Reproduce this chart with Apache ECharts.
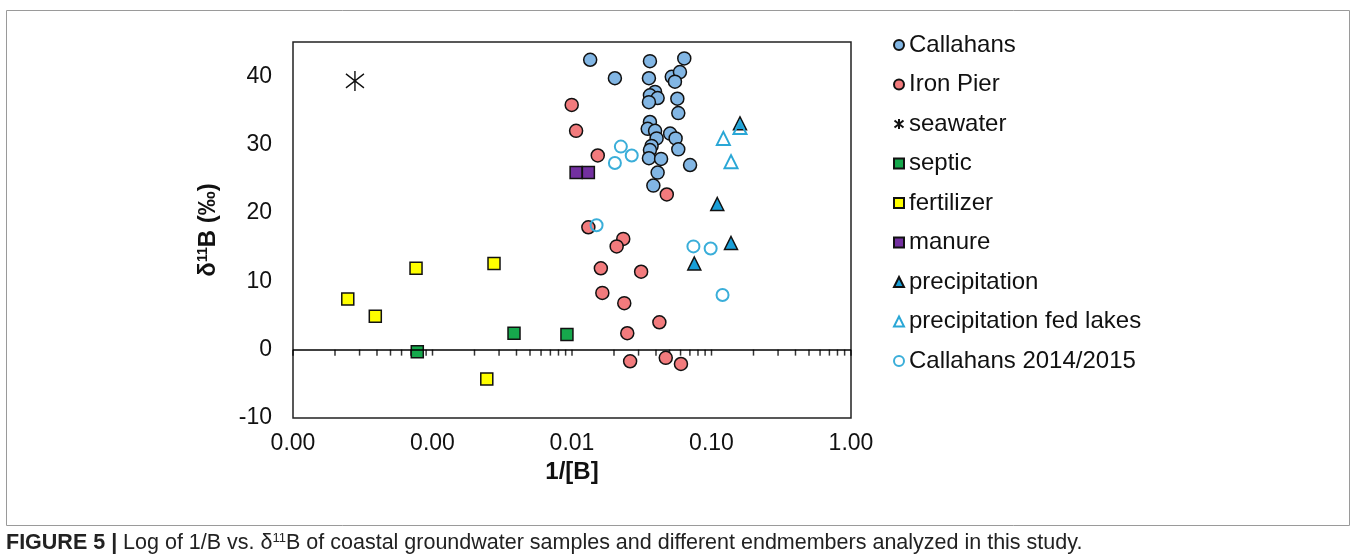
<!DOCTYPE html>
<html>
<head>
<meta charset="utf-8">
<script src="https://cdn.jsdelivr.net/npm/echarts@6.0.0/dist/echarts.min.js"></script>
<style>
  html, body { margin: 0; padding: 0; background: #fff; }
  #chart { width: 1357px; height: 560px; }
</style>
</head>
<body>
<div id="chart"></div>
<script>
// [1/[B], d11B]
const callahans = [
  [0.0135, 42.4], [0.0203, 39.7], [0.0362, 42.2], [0.0638, 42.6], [0.0356, 39.7],
  [0.0519, 39.9], [0.0594, 40.6], [0.0547, 39.2], [0.0394, 37.7], [0.0362, 37.2],
  [0.0411, 36.8], [0.0356, 36.2], [0.0569, 36.7], [0.0578, 34.6], [0.0362, 33.3],
  [0.0349, 32.3], [0.0394, 32.0], [0.0404, 30.9], [0.0505, 31.6], [0.0553, 30.9],
  [0.0372, 29.8], [0.0362, 29.2], [0.0578, 29.3], [0.0356, 28.0], [0.0435, 27.9],
  [0.0702, 27.0], [0.0411, 25.9], [0.0383, 24.0]
]
const ironPier = [
  [0.00995, 35.8], [0.0107, 32.0], [0.0153, 28.4], [0.0478, 22.7], [0.0131, 17.9],
  [0.0233, 16.2], [0.0209, 15.1], [0.0161, 11.9], [0.0313, 11.4], [0.0165, 8.3],
  [0.0237, 6.8], [0.0423, 4.0], [0.0249, 2.4], [0.0261, -1.7], [0.0470, -1.2],
  [0.0604, -2.1]
]
const seawater = [[0.000278, 39.3]]
const septic = [[0.000778, -0.3], [0.00384, 2.4], [0.0092, 2.2]]
const fertilizer = [[0.000247, 7.4], [0.000389, 4.9], [0.000762, 11.9], [0.00276, 12.6], [0.00245, -4.3]]
const manure = [[0.0107, 25.9], [0.0131, 25.9]]
const precipitation = [[0.160, 33.1], [0.110, 21.3], [0.138, 15.6], [0.0753, 12.6]]
const precipLakes = [[0.160, 32.5], [0.1216, 30.9], [0.138, 27.5]]
const callahans2014 = [[0.0224, 29.7], [0.0268, 28.4], [0.0203, 27.3], [0.0150, 18.2], [0.0742, 15.1], [0.0986, 14.8], [0.120, 8.0]]

const seriesNames = ['Callahans', 'Iron Pier', 'seawater', 'septic', 'fertilizer', 'manure',
  'precipitation', 'precipitation fed lakes', 'Callahans 2014/2015']

// log minor ticks hanging off the zero line
const tickDecades = [0.0001, 0.001, 0.01, 0.1]
const tickSteps = [1, 2, 3, 4, 5, 6, 7, 8, 9]
const zeroTicks = tickDecades.flatMap((d) => tickSteps.map((s) => [d * s, 0])).concat([[1, 0]])

const font = "'Liberation Sans', Arial, sans-serif"
const starPath = 'path://M9,0L9,20M0,3L18,17M0,17L18,3'

const filled = (name, data, symbol, size, color) => ({
  name,
  type: 'scatter',
  data,
  symbol,
  symbolSize: size,
  itemStyle: { color, borderColor: '#111', borderWidth: 1.5, opacity: 1 }
})

const hollow = (name, data, symbol, size, color) => ({
  name,
  type: 'scatter',
  data,
  symbol,
  symbolSize: size,
  itemStyle: { color: 'rgba(0,0,0,0)', borderColor: color, borderWidth: 2, opacity: 1 }
})

const chart = echarts.init(document.getElementById('chart'))

chart.setOption({
  backgroundColor: '#fff',
  animation: false,
  textStyle: { fontFamily: font },
  grid: {
    left: 293,
    right: 506,
    top: 42,
    bottom: 142,
    show: true,
    borderColor: '#222',
    borderWidth: 1.5,
    backgroundColor: 'transparent'
  },
  legend: {
    orient: 'vertical',
    left: 893,
    top: 32,
    padding: 0,
    itemWidth: 10,
    itemHeight: 10,
    itemGap: 13.5,
    data: seriesNames,
    textStyle: { fontSize: 24, lineHeight: 26, color: '#111', fontFamily: font }
  },
  xAxis: {
    type: 'log',
    logBase: 10,
    min: 0.0001,
    max: 1,
    name: '1/[B]',
    nameLocation: 'middle',
    nameGap: 40,
    nameTextStyle: { fontSize: 24, fontWeight: 'bold', color: '#111', fontFamily: font },
    axisLine: { show: false },
    axisTick: { show: false },
    splitLine: { show: false },
    axisLabel: {
      fontSize: 23,
      color: '#111',
      margin: 14,
      formatter: (v) => Number(v).toFixed(2)
    }
  },
  yAxis: {
    type: 'value',
    min: -10,
    max: 45,
    interval: 10,
    name: 'δ{sup|11}B (‰)',
    nameLocation: 'middle',
    nameRotate: 90,
    nameGap: 73,
    nameTextStyle: {
      fontSize: 24,
      fontWeight: 'bold',
      color: '#111',
      fontFamily: font,
      rich: {
        sup: { fontSize: 14, fontWeight: 'bold', verticalAlign: 'top', color: '#111', fontFamily: font }
      }
    },
    axisLine: { show: false },
    axisTick: { show: false },
    splitLine: { show: false },
    axisLabel: {
      fontSize: 23,
      color: '#111',
      margin: 21,
      formatter: (v) => (v > 40 ? '' : String(v))
    }
  },
  series: [
    {
      name: 'zeroTicks',
      type: 'scatter',
      silent: true,
      data: zeroTicks,
      symbol: 'rect',
      symbolSize: [1.5, 6],
      symbolOffset: [0, 3],
      itemStyle: { color: '#000' },
      markLine: {
        silent: true,
        symbol: 'none',
        label: { show: false },
        lineStyle: { color: '#000', width: 1.5, type: 'solid' },
        data: [{ yAxis: 0 }]
      }
    },
    filled('Callahans', callahans, 'circle', 13, '#82b6e4'),
    filled('Iron Pier', ironPier, 'circle', 13, '#f27b7d'),
    {
      name: 'seawater',
      type: 'scatter',
      data: seawater,
      symbol: starPath,
      symbolSize: [18, 20],
      itemStyle: { color: 'rgba(0,0,0,0)', borderColor: '#111', borderWidth: 1.5, opacity: 1 }
    },
    filled('septic', septic, 'rect', 12, '#16a84c'),
    filled('fertilizer', fertilizer, 'rect', 12, '#ffff00'),
    filled('manure', manure, 'rect', 12, '#7330a0'),
    filled('precipitation', precipitation, 'triangle', 13, '#199fd8'),
    hollow('precipitation fed lakes', precipLakes, 'triangle', 13, '#2aa7d6'),
    hollow('Callahans 2014/2015', callahans2014, 'circle', 12, '#3aaed9')
  ],
  graphic: [
    {
      type: 'rect',
      silent: true,
      shape: { x: 6.5, y: 10.5, width: 1343, height: 515 },
      style: { fill: 'none', stroke: '#9a9a9a', lineWidth: 1 }
    },
    {
      type: 'text',
      left: 6,
      top: 532,
      silent: true,
      style: {
        text: '{b|FIGURE 5 |} Log of 1/B vs. δ{s|11}B of coastal groundwater samples and different endmembers analyzed in this study.',
        fontSize: 21.5,
        fontFamily: font,
        fill: '#222',
        rich: {
          b: { fontSize: 21.5, fontWeight: 'bold', fontFamily: font, fill: '#222' },
          s: { fontSize: 13, verticalAlign: 'top', fontFamily: font, fill: '#222' }
        }
      }
    }
  ]
})
</script>
</body>
</html>
